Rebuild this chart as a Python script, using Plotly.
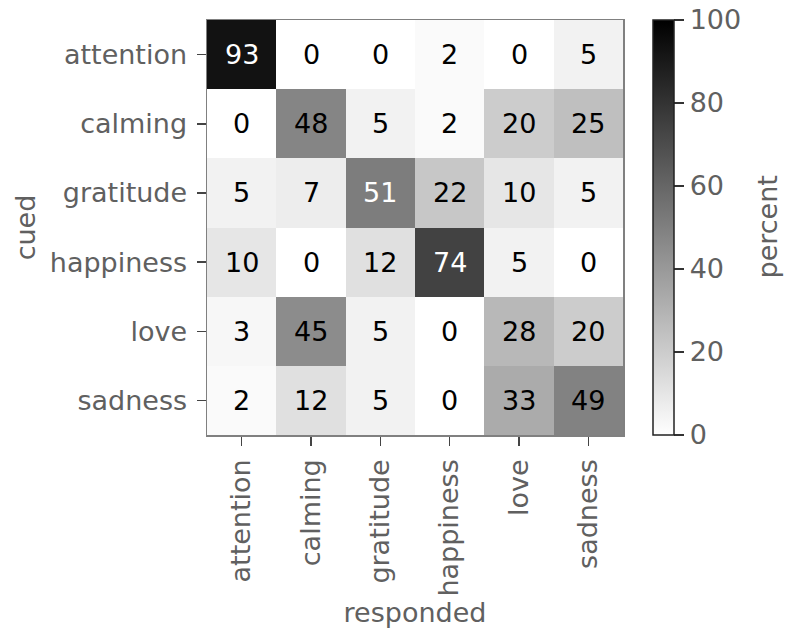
import plotly.graph_objects as go

categories = ["attention", "calming", "gratitude", "happiness", "love", "sadness"]
cued = ["attention", "calming", "gratitude", "happiness", "love", "sadness"]
values = [
    [93, 0, 0, 2, 0, 5],
    [0, 48, 5, 2, 20, 25],
    [5, 7, 51, 22, 10, 5],
    [10, 0, 12, 74, 5, 0],
    [3, 45, 5, 0, 28, 20],
    [2, 12, 5, 0, 33, 49],
]
cbar_ticks = [0, 20, 40, 60, 80, 100]

FONT = "DejaVu Sans"
GRAY = "#606060"
FS = 27

L, R, T, B = 207, 164, 20, 202
W, H = 787, 637
plot_w = W - L - R

fig = go.Figure()
fig.add_trace(go.Heatmap(
    z=values, x=categories, y=cued,
    zmin=0, zmax=100,
    colorscale=[[0, "#ffffff"], [1, "#000000"]],
    xgap=0, ygap=0,
    colorbar=dict(
        x=(653 - L) / plot_w, xanchor="left", y=0.5, yanchor="middle",
        len=1.0, lenmode="fraction", thickness=21, ypad=0, xpad=0,
        outlinewidth=1.5, outlinecolor="#222222",
        tickvals=cbar_ticks, ticks="outside", ticklen=10, tickwidth=1.5, tickcolor="#333333",
        tickfont=dict(family=FONT, size=FS, color=GRAY),
    ),
    hoverinfo="skip",
))

annotations = []
for i, row in enumerate(values):
    for j, v in enumerate(row):
        annotations.append(dict(
            x=categories[j], y=cued[i], text=str(v), showarrow=False,
            font=dict(family=FONT, size=FS, color="#ffffff" if v > 50 else "#000000"),
        ))
annotations.append(dict(
    x=(767 - L) / plot_w, y=0.5, xref="paper", yref="paper", text="percent",
    textangle=-90, showarrow=False, xanchor="center", yanchor="middle",
    font=dict(family=FONT, size=FS, color=GRAY),
))

fig.update_layout(
    width=W, height=H,
    margin=dict(l=L, r=R, t=T, b=B, autoexpand=False),
    paper_bgcolor="white", plot_bgcolor="white",
    annotations=annotations,
    font=dict(family=FONT, size=FS, color=GRAY),
)
fig.update_xaxes(
    title=dict(text="responded", font=dict(family=FONT, size=FS, color=GRAY), standoff=4),
    tickangle=-90, ticks="outside", ticklen=9, tickwidth=1.5, tickcolor="#444444",
    ticklabelstandoff=3,
    showline=True, linecolor="#808080", linewidth=1.5, mirror=True, automargin=False,
    tickfont=dict(family=FONT, size=FS, color=GRAY), showgrid=False,
)
fig.update_yaxes(
    title=dict(text="cued", font=dict(family=FONT, size=FS, color=GRAY), standoff=6),
    autorange="reversed", ticks="outside", ticklen=9, tickwidth=1.5, tickcolor="#444444",
    ticklabelstandoff=4,
    showline=True, linecolor="#808080", linewidth=1.5, mirror=True, automargin=False,
    tickfont=dict(family=FONT, size=FS, color=GRAY), showgrid=False,
)

fig.write_html(
    "out.html",
    config={"displayModeBar": False, "staticPlot": True},
    post_script="document.body.style.margin='0';document.body.style.overflow='hidden';",
)
